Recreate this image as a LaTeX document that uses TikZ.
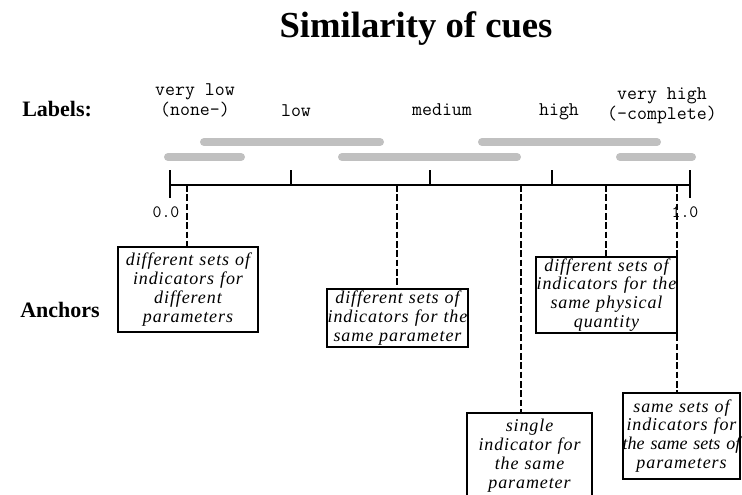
\documentclass[tikz,border=0pt]{standalone}
\usepackage{fontspec}
\setmainfont{Liberation Serif}
\newfontfamily\cuefont{Liberation Serif}[LetterSpace=5]
\definecolor{bandgray}{RGB}{192,192,192}

\begin{document}
\begin{tikzpicture}[x=0.75pt,y=-0.75pt,
		every node/.style={inner sep=0pt},
		heading/.style={font=\bfseries\fontsize{16.5}{19}\selectfont, anchor=base west},
		level/.style={font=\ttfamily\fontsize{14.5}{12.5}\selectfont, align=center, anchor=base},
		band/.style={draw=bandgray, line width=6pt, line cap=round},
		cue/.style={draw, line width=0.9pt, align=center,
			font=\cuefont\itshape\fontsize{13.5}{14.2}\selectfont},
		anchorline/.style={line width=2pt, dash pattern=on 5pt off 2pt},
		]
		\useasboundingbox (0,0) rectangle (742,494);

		\node (title) [anchor=base, font=\bfseries\fontsize{27.5}{30}\selectfont] at (416,37) {Similarity of cues};
		\node (labels) [heading] at (22,116) {Labels:};
		\node (anchors) [heading] at (20,317) {Anchors};

		% similarity levels
		\node (verylow) [level] at (195,115) {very low\\(none-)};
		\node (low) [level] at (296,116) {low};
		\node (medium) [level] at (442,115) {medium};
		\node (high) [level] at (559,115) {high};
		\node (veryhigh) [level] at (662,119) {very high\\(-complete)};

		\draw[band] (204,142) -- (380,142);
		\draw[band] (482,142) -- (657,142);
		\draw[band] (168,157) -- (241,157);
		\draw[band] (342,157) -- (517,157);
		\draw[band] (620,157) -- (692,157);

		% scale
		\draw[line width=0.9pt] (170,170) -- (170,198) (170,185) -- (690,185) (690,170) -- (690,198);
		\foreach \x in {291,430,552}
			\draw[line width=0.9pt] (\x,170) -- (\x,185);
		\node (zero) [anchor=base, font=\ttfamily\fontsize{13}{15}\selectfont] at (166,217) {0.0};
		\node (one) [anchor=base, font=\ttfamily\fontsize{13}{15}\selectfont] at (685,217) {1.0};

		\coordinate (a1) at (187,185);
		\coordinate (a2) at (397,185);
		\coordinate (a3) at (521,185);
		\coordinate (a4) at (606,185);
		\coordinate (a5) at (677,185);

		% anchors
		\node (diffparam) [cue, text width=105pt, minimum height=63.75pt] at (188,289.5)
			{different sets of\\indicators for\\different\\parameters};
		\node (sameparam) [cue, text width=105.75pt, minimum height=43.5pt] at (397.5,318)
			{different sets of\\indicators for the\\same parameter};
		\node (physqty) [cue, text width=105.75pt, minimum height=57pt] at (606.5,295)
			{different sets of\\indicators for the\\same physical\\quantity};
		\node (single) [cue, text width=93.75pt, minimum height=63.75pt] at (529.5,455.5)
			{single\\indicator for\\the same\\parameter};
		\node (samesets) [cue, text width=87.75pt, minimum height=64.5pt] at (681.5,436)
			{same sets of\\indicators for\\\makebox[\linewidth]{\addfontfeature{LetterSpace=0}the same sets of}\\parameters};

		\draw[anchorline] (a1) -- (diffparam.north -| a1);
		\draw[anchorline] (a2) -- (sameparam.north -| a2);
		\draw[anchorline] (a3) -- (single.north -| a3);
		\draw[anchorline] (a4) -- (physqty.north -| a4);
		\draw[anchorline] (a5) -- (samesets.north -| a5);

	\end{tikzpicture}
\end{document}
